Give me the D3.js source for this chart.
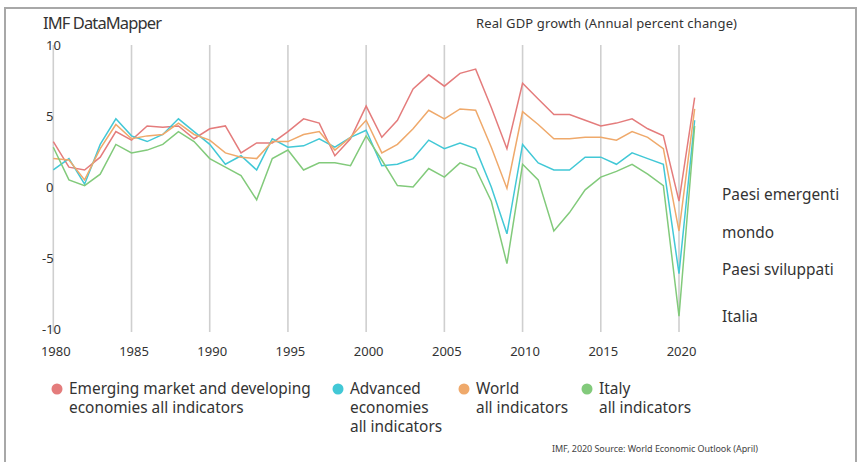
<!DOCTYPE html>
<html>
<head>
<meta charset="utf-8">
<script src="https://cdn.jsdelivr.net/npm/d3@7"></script>
<style>
  body { margin: 0; background: #fff; }
  svg { display: block; font-family: "Noto Sans", "Open Sans", sans-serif; }
  .tick-label { fill: #333; font-size: 13px; }
  .legend-text { fill: #333; font-size: 15.4px; }
</style>
</head>
<body>
<svg id="chart" width="861" height="462"></svg>
<script>
// Real GDP growth, 1980-2021 (IMF WEO April 2020)
const years = d3.range(1980, 2022)

const emerging = [3.2, 1.4, 1.2, 2.1, 3.9, 3.3, 4.3, 4.2, 4.3, 3.4, 4.1, 4.3, 2.4, 3.1, 3.1, 3.9,
  4.8, 4.5, 2.2, 3.4, 5.7, 3.5, 4.7, 6.9, 7.9, 7.1, 8.0, 8.3, 5.6, 2.7, 7.3, 6.2,
  5.1, 5.1, 4.7, 4.3, 4.5, 4.8, 4.1, 3.6, -1.0, 6.3]
const advanced = [1.2, 2.0, 0.2, 3.0, 4.8, 3.6, 3.2, 3.7, 4.8, 3.9, 3.0, 1.6, 2.2, 1.2, 3.4, 2.8,
  2.9, 3.4, 2.8, 3.5, 4.0, 1.5, 1.6, 2.0, 3.3, 2.7, 3.1, 2.7, 0.0, -3.3, 3.0, 1.7,
  1.2, 1.2, 2.1, 2.1, 1.6, 2.4, 2.0, 1.6, -6.1, 4.7]
const world = [2.0, 1.9, 0.5, 2.7, 4.4, 3.4, 3.6, 3.7, 4.5, 3.7, 3.3, 2.4, 2.1, 2.0, 3.2, 3.2,
  3.7, 3.9, 2.6, 3.5, 4.7, 2.4, 3.0, 4.1, 5.4, 4.8, 5.5, 5.4, 2.8, -0.1, 5.3, 4.4,
  3.4, 3.4, 3.5, 3.5, 3.3, 3.9, 3.5, 2.7, -3.1, 5.5]
const italy = [2.8, 0.5, 0.1, 0.9, 3.0, 2.4, 2.6, 3.0, 3.9, 3.2, 2.0, 1.4, 0.8, -0.9, 2.0, 2.6,
  1.2, 1.7, 1.7, 1.5, 3.6, 1.9, 0.1, 0.0, 1.3, 0.7, 1.7, 1.3, -1.0, -5.4, 1.6, 0.5,
  -3.1, -1.8, -0.2, 0.7, 1.1, 1.6, 0.9, 0.1, -9.1, 4.3]

const seriesNames = ['Emerging market and developing|economies all indicators',
  'Advanced|economies|all indicators', 'World|all indicators', 'Italy|all indicators']
const seriesColors = ['#e47c7c', '#42c8d6', '#efa96b', '#82ca7b']
const seriesValues = [emerging, advanced, world, italy]

const yTicks = [10, 5, 0, -5, -10]
const xTicks = d3.range(1980, 2021, 5)
const endLabels = ['Paesi emergenti', 'mondo', 'Paesi sviluppati', 'Italia']

const svg = d3.select('#chart')

// outer frame
svg.append('rect')
    .attr('x', 5)
    .attr('y', 8)
    .attr('width', 851)
    .attr('height', 470)
    .attr('fill', 'none')
    .attr('stroke', '#a8a8a8')
    .attr('stroke-width', 2)

const x = d3.scaleLinear()
    .domain([1980, 2020])
    .range([53.3, 679])

const y = d3.scaleLinear()
    .domain([-10, 10])
    .range([329, 45])

// vertical grid
svg.append('g')
  .selectAll('line')
  .data(xTicks)
  .join('line')
    .attr('x1', d => x(d))
    .attr('x2', d => x(d))
    .attr('y1', y(10))
    .attr('y2', 332)
    .attr('stroke', '#cfcfcf')
    .attr('stroke-width', 1.6)

// y tick labels
svg.append('g')
  .selectAll('text')
  .data(yTicks)
  .join('text')
    .attr('class', 'tick-label')
    .attr('x', d => d < 0 ? 42 : 46)
    .attr('y', d => y(d))
    .attr('dy', '0.35em')
    .text(d => d)

// x tick labels
svg.append('g')
  .selectAll('text')
  .data(xTicks)
  .join('text')
    .attr('class', 'tick-label')
    .attr('x', d => x(d) + 2.5)
    .attr('y', 351)
    .attr('dy', '0.35em')
    .attr('text-anchor', 'middle')
    .text(d => d)

// lines
const line = d3.line()
    .x((d, i) => x(years[i]))
    .y(d => y(d))

svg.append('g')
  .selectAll('path')
  .data(seriesValues)
  .join('path')
    .attr('d', line)
    .attr('fill', 'none')
    .attr('stroke', (d, i) => seriesColors[i])
    .attr('stroke-width', 1.5)
    .attr('stroke-linejoin', 'miter')

// titles
svg.append('text')
    .attr('x', 43)
    .attr('y', 29)
    .attr('fill', '#333')
    .attr('font-size', 16.5)
    .attr('textLength', 119)
    .text('IMF DataMapper')

svg.append('text')
    .attr('x', 476)
    .attr('y', 28)
    .attr('fill', '#333')
    .attr('font-size', 13)
    .attr('textLength', 261)
    .text('Real GDP growth (Annual percent change)')

// right side labels
const labelY = [195, 233, 270, 317]
svg.append('g')
  .selectAll('text')
  .data(endLabels)
  .join('text')
    .attr('x', 722)
    .attr('y', (d, i) => labelY[i])
    .attr('dy', '0.35em')
    .attr('fill', '#333')
    .attr('font-size', 15.4)
    .text(d => d)

// legend
const legendX = [57, 338, 464, 587]
const legend = svg.append('g')
  .selectAll('g')
  .data(seriesNames)
  .join('g')
    .attr('transform', (d, i) => `translate(${legendX[i]},389)`)

legend.append('circle')
    .attr('r', 5.5)
    .attr('fill', (d, i) => seriesColors[i])

legend.append('text')
    .attr('class', 'legend-text')
  .selectAll('tspan')
  .data(d => d.split('|'))
  .join('tspan')
    .attr('x', 12)
    .attr('y', (d, i) => i * 18.7)
    .attr('dy', '0.35em')
    .text(d => d)

// source
svg.append('text')
    .attr('x', 552)
    .attr('y', 449)
    .attr('dy', '0.35em')
    .attr('fill', '#444')
    .attr('font-size', 9)
    .attr('textLength', 206)
    .text('IMF, 2020 Source: World Economic Outlook (April)')
</script>
</body>
</html>
